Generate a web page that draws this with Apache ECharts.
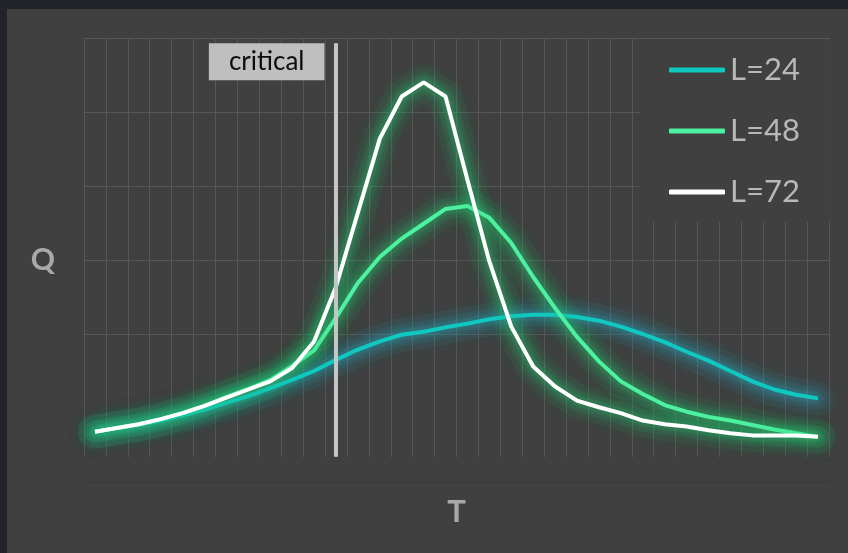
<!DOCTYPE html>
<html>
<head>
<meta charset="utf-8">
<script src="https://cdn.jsdelivr.net/npm/echarts@6/dist/echarts.min.js"></script>
<style>
  html, body { margin: 0; padding: 0; background: #222328; width: 848px; height: 553px; overflow: hidden; }
  #chart { position: absolute; left: 7px; top: 9px; width: 841px; height: 544px; }
</style>
</head>
<body>
<div id="chart"></div>
<script>
// Temperature steps along the horizontal axis (labels hidden)
const T = ['1','2','3','4','5','6','7','8','9','10','11','12','13','14','15','16','17',
           '18','19','20','21','22','23','24','25','26','27','28','29','30','31','32','33','34'];

// Q for each lattice size
const L24 = [0.68,0.73,0.77,0.83,0.90,0.98,1.07,1.16,1.27,1.38,1.50,1.65,1.79,1.90,1.99,2.03,2.09,
             2.14,2.20,2.24,2.26,2.26,2.23,2.18,2.10,2.00,1.89,1.76,1.64,1.50,1.36,1.25,1.18,1.13];
const L48 = [0.68,0.73,0.78,0.85,0.93,1.03,1.15,1.26,1.38,1.57,1.78,2.22,2.69,3.04,3.29,3.49,3.69,
             3.73,3.57,3.23,2.77,2.35,1.96,1.63,1.36,1.19,1.04,0.95,0.88,0.83,0.77,0.71,0.66,0.61];
const L72 = [0.68,0.73,0.78,0.85,0.93,1.03,1.14,1.25,1.36,1.54,1.90,2.64,3.64,4.64,5.21,5.40,5.21,
             4.08,2.98,2.10,1.56,1.29,1.10,1.01,0.93,0.83,0.78,0.75,0.70,0.66,0.63,0.63,0.63,0.61];

// Critical temperature marker: category index and vertical extent
const criticalIndex = 11;
const criticalSpan = [0.34, 5.93];

const FONT = 'Lato';
const GRID_LINE = '#575757';
const GREEN_GLOW = [40, 190, 110];
const TEAL_GLOW = [40, 165, 185];
const rgba = (c, a) => `rgba(${c[0]},${c[1]},${c[2]},${a})`;

// Halo bands (width, opacity) stacked under each curve for a soft glow
const HALO_BANDS = [[34, 0.06], [22, 0.08], [12, 0.09]];

const chart = echarts.init(document.getElementById('chart'), null, { renderer: 'canvas' });

const haloSeries = (name, data, glow) => HALO_BANDS.map(([w, a], k) => ({
  name: name + ' halo ' + k, type: 'line', data, symbol: 'none', smooth: false, z: 1,
  lineStyle: { width: w, color: rgba(glow, a), cap: 'round', join: 'round', shadowColor: rgba(glow, 1), shadowBlur: 16 },
  emphasis: { disabled: true }, silent: true, legendHoverLink: false
}));

const curveSeries = (name, data, color, glow) => ({
  name, type: 'line', data, symbol: 'none', smooth: false, z: 3,
  color,
  lineStyle: { width: 4, color, shadowColor: rgba(glow, 0.7), shadowBlur: 10 },
  emphasis: { disabled: true },
  silent: true
});

chart.setOption({
  backgroundColor: '#404040',
  animation: false,
  textStyle: { fontFamily: FONT },
  grid: [
    { left: 77, right: 19, top: 29, bottom: 71 },
    { left: 77, right: 19, top: 29, bottom: 96 }
  ],
  xAxis: [
    {
      type: 'category', gridIndex: 0, data: T, boundaryGap: true,
      axisLine: { show: true, lineStyle: { color: '#393939', width: 1 } },
      axisTick: { show: true, inside: true, length: 3, lineStyle: { color: '#393939' } },
      axisLabel: { show: false },
      splitLine: { show: false },
      name: 'T', nameLocation: 'middle', nameGap: 14,
      nameTextStyle: { color: '#a9a9a9', fontSize: 31, fontWeight: 'bold', fontFamily: FONT }
    },
    {
      type: 'category', gridIndex: 1, data: T, boundaryGap: true,
      axisLine: { show: false }, axisTick: { show: false }, axisLabel: { show: false },
      splitLine: { show: true, lineStyle: { color: GRID_LINE, width: 1 } }
    }
  ],
  yAxis: [
    {
      type: 'value', gridIndex: 0, min: 0, max: 6, interval: 1,
      axisLine: { show: false }, axisTick: { show: false }, axisLabel: { show: false },
      splitLine: {
        show: true,
        lineStyle: { width: 1, color: ['rgba(0,0,0,0)', 'rgba(0,0,0,0)', GRID_LINE, GRID_LINE, GRID_LINE, GRID_LINE, GRID_LINE] }
      },
      name: 'Q', nameLocation: 'middle', nameRotate: 0, nameGap: 29,
      nameTextStyle: { color: '#a9a9a9', fontSize: 30, fontWeight: 'bold', fontFamily: FONT, padding: [0, 0, 8, 0] }
    },
    { type: 'value', gridIndex: 1, show: false, splitLine: { show: false } }
  ],
  legend: {
    data: ['L=24', 'L=48', 'L=72'],
    orient: 'vertical', left: 633, top: 30,
    padding: [14, 30, 13, 29], itemGap: 27,
    icon: 'roundRect', itemWidth: 56, itemHeight: 5,
    backgroundColor: '#404040',
    selectedMode: false,
    itemStyle: { shadowBlur: 0 },
    textStyle: { color: '#b8b8b8', fontSize: 31, lineHeight: 34, fontFamily: FONT }
  },
  series: [
    ...haloSeries('L=24', L24, TEAL_GLOW),
    ...haloSeries('L=48', L48, GREEN_GLOW),
    ...haloSeries('L=72', L72, GREEN_GLOW),
    curveSeries('L=24', L24, '#0fc9c1', TEAL_GLOW),
    curveSeries('L=48', L48, '#4df2a0', GREEN_GLOW),
    curveSeries('L=72', L72, '#ffffff', GREEN_GLOW),
    {
      name: 'critical', type: 'line', silent: true, z: 5,
      symbol: 'circle', symbolSize: 1, showSymbol: true,
      itemStyle: { color: 'rgba(0,0,0,0)' },
      lineStyle: { width: 4, color: '#c6c6c6' },
      emphasis: { disabled: true },
      data: [
        [criticalIndex, criticalSpan[0]],
        {
          value: [criticalIndex, criticalSpan[1]],
          label: {
            show: true, formatter: 'critical', position: 'left', distance: 11, offset: [0, 18.5],
            backgroundColor: '#bfbfbf', color: '#0d0d0d', fontSize: 26, lineHeight: 26,
            fontFamily: FONT, padding: [6, 20, 5, 20]
          }
        }
      ]
    }
  ]
});
</script>
</body>
</html>
